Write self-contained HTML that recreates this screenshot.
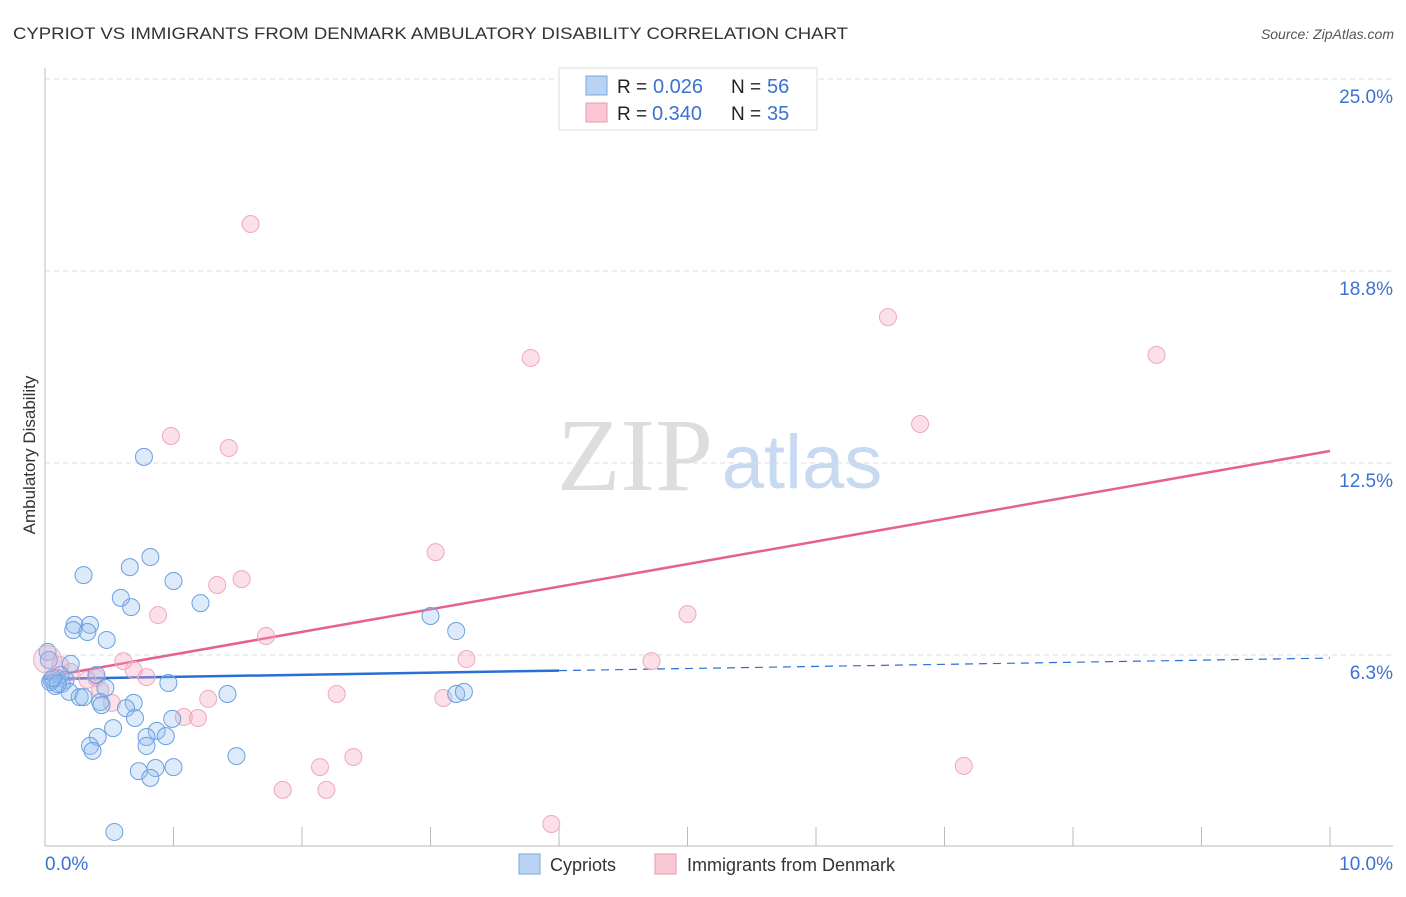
<!DOCTYPE html>
<html><head><meta charset="utf-8"><style>
body{margin:0;background:#fff;font-family:"Liberation Sans",sans-serif;}
svg text{font-family:"Liberation Sans",sans-serif;}
</style></head><body>
<svg id="c" width="1406" height="892" xmlns="http://www.w3.org/2000/svg">
<text x="13" y="39" font-size="17" fill="#333" textLength="835" lengthAdjust="spacingAndGlyphs">CYPRIOT VS IMMIGRANTS FROM DENMARK AMBULATORY DISABILITY CORRELATION CHART</text>
<text x="1394" y="39" font-size="14" fill="#555" font-style="italic" text-anchor="end">Source: ZipAtlas.com</text>
<text x="35" y="455" font-size="17" fill="#333" text-anchor="middle" transform="rotate(-90 35 455)">Ambulatory Disability</text>
<g><text x="635" y="490" font-size="104" fill="#ddd" text-anchor="middle" style="font-family:'Liberation Serif',serif">ZIP</text><text x="802" y="488" font-size="76" fill="#c8daf2" text-anchor="middle">atlas</text></g>
<g id="grid"></g><g id="axes"></g><g id="trend"></g><g id="pts"></g>
<g>
<rect x="559" y="68" width="258" height="62" fill="#fff" stroke="#ddd"/>
<rect x="586" y="76" width="21" height="19" fill="#b8d3f3" stroke="#7aa7df"/>
<rect x="586" y="103" width="21" height="19" fill="#f9c6d4" stroke="#e99ab2"/>
<text x="617" y="93" font-size="19" fill="#222">R =</text><text x="653" y="93" font-size="20" fill="#3a72d0">0.026</text>
<text x="731" y="93" font-size="19" fill="#222">N =</text><text x="767" y="93" font-size="20" fill="#3a72d0">56</text>
<text x="617" y="120" font-size="19" fill="#222">R =</text><text x="652" y="120" font-size="20" fill="#3a72d0">0.340</text>
<text x="731" y="120" font-size="19" fill="#222">N =</text><text x="767" y="120" font-size="20" fill="#3a72d0">35</text>
</g>
<g>
<rect x="519" y="854" width="21" height="20" fill="#b8d3f3" stroke="#7aa7df"/>
<text x="550" y="871" font-size="18" fill="#333">Cypriots</text>
<rect x="655" y="854" width="21" height="20" fill="#f9c6d4" stroke="#e99ab2"/>
<text x="687" y="871" font-size="18" fill="#333">Immigrants from Denmark</text>
</g>
</svg>
<script>
const yTicks=[25,18.75,12.5,6.25];
const yTickLabels=["25.0%","18.8%","12.5%","6.3%"];
const xTickVals=[0,1,2,3,4,5,6,7,8,9,10];
const blueX=[0.77,0.82,0.30,0.66,1.00,0.59,0.67,1.21,3.00,3.20,0.23,0.35,0.22,0.33,0.48,0.02,0.20,0.40,0.09,0.16,0.08,0.13,0.47,0.19,0.27,0.30,0.43,0.96,1.42,0.69,0.44,0.63,0.70,0.53,0.41,0.99,0.87,0.79,0.94,0.79,0.35,0.37,1.49,0.73,0.86,1.00,0.82,0.54,3.20,3.26,0.03,0.05,0.12,0.04,0.10,0.06];
const blueY=[12.70,9.44,8.85,9.11,8.66,8.11,7.81,7.94,7.52,7.03,7.23,7.23,7.06,7.00,6.74,6.35,5.96,5.60,5.50,5.44,5.24,5.31,5.18,5.05,4.88,4.88,4.72,5.34,4.98,4.69,4.62,4.52,4.20,3.87,3.58,4.17,3.78,3.58,3.61,3.29,3.29,3.13,2.96,2.47,2.57,2.60,2.25,0.49,4.98,5.05,6.09,5.44,5.60,5.37,5.30,5.50];
const pinkX=[1.60,6.56,3.78,8.65,0.98,1.43,6.81,3.04,1.53,1.34,0.88,5.00,1.72,3.28,4.72,0.61,0.69,0.79,0.40,0.33,0.43,2.27,1.27,3.10,0.52,1.08,1.19,2.14,2.40,1.85,2.19,7.15,3.94,0.12,0.20];
const pinkY=[20.28,17.25,15.92,16.02,13.38,12.99,13.77,9.60,8.72,8.53,7.55,7.58,6.87,6.12,6.05,6.05,5.76,5.53,5.50,5.44,5.11,4.98,4.82,4.85,4.69,4.23,4.20,2.60,2.93,1.86,1.86,2.64,0.75,5.92,5.70];
const blueTrend=[5.47,6.15];
const pinkTrend=[5.53,12.89];
const NS="http://www.w3.org/2000/svg";
const xs=v=>45+v*128.5, ys=v=>847-v*30.72;
function mk(t,a,p){const e=document.createElementNS(NS,t);for(const k in a)e.setAttribute(k,a[k]);p.appendChild(e);return e;}
const grid=document.getElementById('grid'),axes=document.getElementById('axes'),tr=document.getElementById('trend'),pts=document.getElementById('pts');
yTicks.forEach((v,i)=>{
 const l=mk('line',{x1:45,x2:1393,y1:ys(v),y2:ys(v),stroke:'#ddd','stroke-dasharray':'5,4'},grid);
 
 
 const t=mk('text',{x:1393,y:ys(v)+24,'font-size':19,fill:'#3a72d0','text-anchor':'end'},axes);
 t.textContent=yTickLabels[i];
 
 
});
let a=mk('line',{x1:45,x2:45,y1:68,y2:846,stroke:'#bbb'},axes);


a=mk('line',{x1:45,x2:1393,y1:846,y2:846,stroke:'#bbb'},axes);


xTickVals.forEach(v=>{const t=mk('line',{x1:xs(v),x2:xs(v),y1:827,y2:846,stroke:'#bbb'},axes);
 
 });
let t=mk('text',{x:45,y:870,'font-size':19,fill:'#3a72d0'},axes);t.textContent='0.0%';


t=mk('text',{x:1393,y:870,'font-size':19,fill:'#3a72d0','text-anchor':'end'},axes);t.textContent='10.0%';


pinkX.forEach((x,i)=>{const c=mk('circle',{cx:xs(x),cy:ys(pinkY[i]),r:8.5,fill:'rgba(244,160,186,0.33)',stroke:'#efa8bf','stroke-width':1},pts);
 
 });
blueX.forEach((x,i)=>{const c=mk('circle',{cx:xs(x),cy:ys(blueY[i]),r:8.5,fill:'rgba(150,190,240,0.33)',stroke:'#6b9fe0','stroke-width':1},pts);
 
 });
let big=mk('circle',{cx:xs(0.02),cy:ys(6.1),r:14,fill:'rgba(220,170,200,0.33)',stroke:'#e8b0c8'},pts);


const bAt=v=>blueTrend[0]+(blueTrend[1]-blueTrend[0])*v/10;
let l=mk('line',{x1:xs(0),y1:ys(bAt(0)),x2:xs(4),y2:ys(bAt(4)),stroke:'#2a6fd6','stroke-width':2.5},tr);


l=mk('line',{x1:xs(4),y1:ys(bAt(4)),x2:xs(10),y2:ys(bAt(10)),stroke:'#2a6fd6','stroke-width':1.2,'stroke-dasharray':'8,6'},tr);


l=mk('line',{x1:xs(0),y1:ys(pinkTrend[0]),x2:xs(10),y2:ys(pinkTrend[1]),stroke:'#e5628e','stroke-width':2.5},tr);


</script>
</body></html>
